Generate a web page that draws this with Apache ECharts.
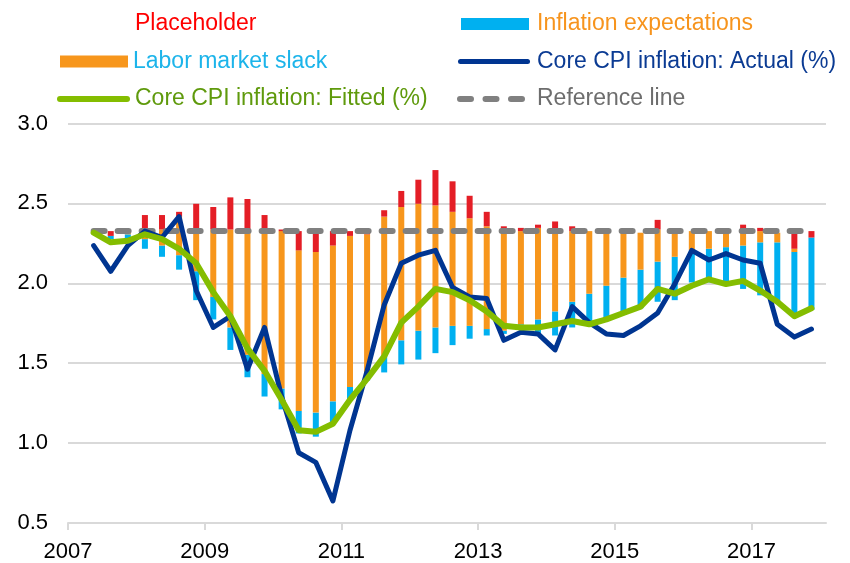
<!DOCTYPE html>
<html>
<head>
<meta charset="UTF-8">
<title>Core CPI inflation decomposition</title>
<script src="https://cdn.jsdelivr.net/npm/echarts@6/dist/echarts.min.js"></script>
<style>
  body{margin:0;padding:0;background:#fff;}
  #chart{width:850px;height:563px;}
</style>
</head>
<body>
<div id="chart"></div>
<script>
// quarterly categories 2007Q1 .. 2017Q4
var quarters = [];
for (var y = 2007; y <= 2017; y++) {
  for (var q = 1; q <= 4; q++) quarters.push(y + 'Q' + q);
}
var xTickYears = [2007, 2009, 2011, 2013, 2015, 2017];

// Core CPI inflation: Actual (%)
var actual = [null, 2.24, 2.08, 2.24, 2.33, 2.29, 2.42, 1.96, 1.73, 1.80,
  1.47, 1.73, 1.30, 0.95, 0.89, 0.65, 1.09, 1.46, 1.87, 2.13,
  2.18, 2.21, 1.98, 1.92, 1.91, 1.65, 1.70, 1.69, 1.59, 1.86,
  1.76, 1.69, 1.68, 1.74, 1.82, 2.00, 2.21, 2.15, 2.19, 2.15,
  2.13, 1.75, 1.67, 1.72];

// Core CPI inflation: Fitted (%)
var fitted = [null, 2.32, 2.26, 2.27, 2.31, 2.28, 2.22, 2.13, 1.95, 1.80,
  1.60, 1.46, 1.28, 1.09, 1.08, 1.13, 1.28, 1.41, 1.55, 1.76,
  1.86, 1.97, 1.95, 1.90, 1.83, 1.74, 1.73, 1.73, 1.75, 1.77,
  1.75, 1.78, 1.82, 1.86, 1.97, 1.94, 1.99, 2.03, 2.00, 2.02,
  1.96, 1.89, 1.80, 1.85];

// Reference line
var reference = [null, 2.33, 2.33, 2.33, 2.33, 2.33, 2.33, 2.33, 2.33, 2.33,
  2.33, 2.33, 2.33, 2.33, 2.33, 2.33, 2.33, 2.33, 2.33, 2.33,
  2.33, 2.33, 2.33, 2.33, 2.33, 2.33, 2.33, 2.33, 2.33, 2.33,
  2.33, 2.33, 2.33, 2.33, 2.33, 2.33, 2.33, 2.33, 2.33, 2.33,
  2.33, 2.33, 2.33, 2.33];

// bar segment levels (bottom -> blue -> orange -> red)
var barLow = [null, null, 2.28, 2.27, 2.22, 2.17, 2.09, 1.90, 1.78, 1.59,
  1.42, 1.30, 1.22, 1.07, 1.05, 1.13, 1.28, 1.40, 1.45, 1.50,
  1.53, 1.57, 1.62, 1.66, 1.68, 1.69, 1.72, 1.68, 1.68, 1.73,
  1.76, 1.79, 1.82, 1.85, 1.89, 1.90, 2.01, 2.01, 2.01, 1.97,
  1.93, 1.89, 1.82, 1.84];
var blueTop = [null, null, 2.30, 2.31, 2.28, 2.24, 2.18, 2.08, 1.92, 1.73,
  1.56, 1.44, 1.35, 1.21, 1.20, 1.27, 1.36, 1.45, 1.55, 1.65,
  1.71, 1.73, 1.74, 1.74, 1.72, 1.71, 1.75, 1.78, 1.83, 1.89,
  1.94, 1.99, 2.04, 2.09, 2.14, 2.17, 2.21, 2.22, 2.23, 2.24,
  2.26, 2.26, 2.20, 2.29];
var orangeTop = [null, null, 2.30, 2.33, 2.34, 2.34, 2.42, 2.34, 2.34, 2.34,
  2.34, 2.34, 2.33, 2.21, 2.20, 2.24, 2.30, 2.31, 2.42, 2.48,
  2.50, 2.49, 2.45, 2.41, 2.36, 2.33, 2.33, 2.35, 2.34, 2.33,
  2.33, 2.32, 2.32, 2.32, 2.34, 2.33, 2.33, 2.33, 2.32, 2.33,
  2.33, 2.32, 2.22, 2.29];
var redTop = [null, null, 2.33, 2.33, 2.43, 2.43, 2.45, 2.50, 2.48, 2.54,
  2.53, 2.43, 2.34, 2.33, 2.33, 2.33, 2.33, 2.32, 2.46, 2.58,
  2.65, 2.71, 2.64, 2.55, 2.45, 2.36, 2.35, 2.37, 2.39, 2.36,
  2.33, 2.32, 2.33, 2.32, 2.40, 2.33, 2.33, 2.33, 2.32, 2.37,
  2.35, 2.32, 2.33, 2.33];

function diff(top, low) {
  return top.map(function (v, i) {
    if (v == null || low[i] == null) return null;
    return +(v - low[i]).toFixed(3);
  });
}

var FONT = 'Liberation Sans, Arial, sans-serif';
var C_RED = '#e41e26', C_ORANGE = '#f7961c', C_BLUE = '#00b0f0',
    C_NAVY = '#003591', C_GREEN = '#84bd00', C_GREY = '#808080';

var ICON_LINE5 = 'path://M2.5,0L69.5,0A2.5,2.5,0,0,1,69.5,5L2.5,5A2.5,2.5,0,0,1,2.5,0Z';
var ICON_LINE6 = 'path://M3,0L70,0A3,3,0,0,1,70,6L3,6A3,3,0,0,1,3,0Z';
var ICON_DASH = 'path://M3,0L14,0A3,3,0,0,1,14,6L3,6A3,3,0,0,1,3,0Z' +
  'M28.5,0L39.5,0A3,3,0,0,1,39.5,6L28.5,6A3,3,0,0,1,28.5,0Z' +
  'M54,0L65,0A3,3,0,0,1,65,6L54,6A3,3,0,0,1,54,0Z';

function legendOne(name, left, top, w, h, icon, iconColor, textColor, padLeft) {
  return {
    left: left, top: top, padding: 0,
    itemWidth: w, itemHeight: h,
    selectedMode: false,
    data: [{
      name: name, icon: icon,
      itemStyle: { color: iconColor, opacity: iconColor === 'none' ? 0 : 1 }
    }],
    textStyle: {
      color: textColor, fontSize: 23, fontFamily: FONT,
      lineHeight: 26, padding: [0, 0, 0, padLeft]
    }
  };
}

var chart = echarts.init(document.getElementById('chart'));

var option = {
  animation: false,
  backgroundColor: '#fff',
  legend: [
    legendOne('Placeholder', 60, 11, 68, 12, 'rect', 'none', '#ff0000', 2),
    legendOne('Inflation expectations', 461, 11, 68, 12, 'rect', C_BLUE, '#f7941d', 3),
    legendOne('Labor market slack', 60, 48.5, 68, 12, 'rect', C_ORANGE, '#1cb4ea', 0),
    legendOne('Core CPI inflation: Actual (%)', 458, 48.5, 72, 5, ICON_LINE5, C_NAVY, '#0b3b93', 2),
    legendOne('Core CPI inflation: Fitted (%)', 57, 86, 73, 6, ICON_LINE6, C_GREEN, '#5f9a0c', 0),
    legendOne('Reference line', 457, 86, 68, 6, ICON_DASH, C_GREY, '#6d6d6d', 7)
  ],
  grid: [
    { left: 68, right: 24, top: 123.5, bottom: 38 },
    { left: 68, right: 30, top: 123.5, bottom: 38 }
  ],
  xAxis: [
    {
      type: 'value', gridIndex: 0, min: 2007, max: 2018.09,
      axisLine: { lineStyle: { color: '#d9d9d9', width: 2 } },
      axisTick: { show: true, length: 7, customValues: xTickYears,
        lineStyle: { color: '#d9d9d9', width: 2 } },
      axisLabel: { customValues: xTickYears, color: '#000', fontSize: 22,
        fontFamily: FONT, margin: 18,
        formatter: function (v) { return String(v); } },
      splitLine: { show: false }
    },
    {
      type: 'category', gridIndex: 1, data: quarters, show: false
    }
  ],
  yAxis: [
    {
      type: 'value', gridIndex: 0, min: 0.5, max: 3.0, interval: 0.5,
      axisLine: { show: false }, axisTick: { show: false },
      axisLabel: { color: '#000', fontSize: 22, fontFamily: FONT, margin: 20,
        formatter: function (v) { return v.toFixed(1); } },
      splitLine: { lineStyle: { color: '#d9d9d9', width: 2 } }
    },
    {
      type: 'value', gridIndex: 1, min: 0.5, max: 3.0, interval: 0.5, show: false,
      splitLine: { show: false }
    }
  ],
  series: [
    {
      name: 'base', type: 'bar', xAxisIndex: 1, yAxisIndex: 1, stack: 'b',
      barWidth: 6, silent: true, data: barLow,
      itemStyle: { color: 'rgba(0,0,0,0)' }
    },
    {
      name: 'Inflation expectations', type: 'bar', xAxisIndex: 1, yAxisIndex: 1,
      stack: 'b', barWidth: 6, data: diff(blueTop, barLow),
      itemStyle: { color: C_BLUE }
    },
    {
      name: 'Labor market slack', type: 'bar', xAxisIndex: 1, yAxisIndex: 1,
      stack: 'b', barWidth: 6, data: diff(orangeTop, blueTop),
      itemStyle: { color: C_ORANGE }
    },
    {
      name: 'Placeholder', type: 'bar', xAxisIndex: 1, yAxisIndex: 1,
      stack: 'b', barWidth: 6, data: diff(redTop, orangeTop),
      itemStyle: { color: C_RED }
    },
    {
      name: 'Reference line', type: 'line', xAxisIndex: 1, yAxisIndex: 1,
      data: reference, symbol: 'none', color: C_GREY,
      lineStyle: { color: C_GREY, width: 6, type: [11, 13], cap: 'round' }
    },
    {
      name: 'Core CPI inflation: Actual (%)', type: 'line', xAxisIndex: 1, yAxisIndex: 1,
      data: actual, symbol: 'none', color: C_NAVY,
      lineStyle: { color: C_NAVY, width: 5, join: 'round', cap: 'round' }
    },
    {
      name: 'Core CPI inflation: Fitted (%)', type: 'line', xAxisIndex: 1, yAxisIndex: 1,
      data: fitted, symbol: 'none', color: C_GREEN,
      lineStyle: { color: C_GREEN, width: 6, join: 'round', cap: 'round' }
    }
  ]
};

chart.setOption(option);
</script>
</body>
</html>
